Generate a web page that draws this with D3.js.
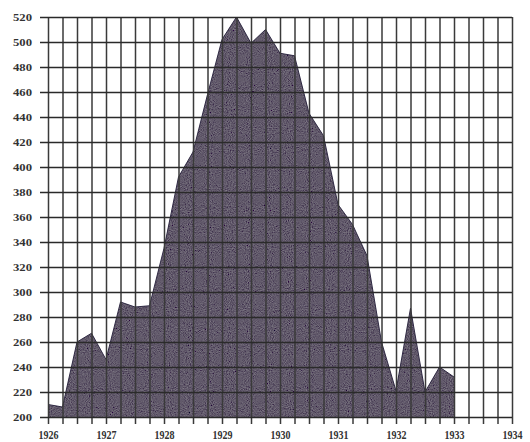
<!DOCTYPE html>
<html>
<head>
<meta charset="utf-8">
<script src="https://cdn.jsdelivr.net/npm/d3@7"></script>
<style>
  html, body { margin: 0; padding: 0; background: #ffffff; }
  svg { display: block; }
</style>
</head>
<body>
<svg id="chart" width="530" height="442"></svg>
<script>
// Quarterly index readings, 1926 – 1933
const quarters = [
  1926.00, 1926.25, 1926.50, 1926.75,
  1927.00, 1927.25, 1927.50, 1927.75,
  1928.00, 1928.25, 1928.50, 1928.75,
  1929.00, 1929.25, 1929.50, 1929.75,
  1930.00, 1930.25, 1930.50, 1930.75,
  1931.00, 1931.25, 1931.50, 1931.75,
  1932.00, 1932.25, 1932.50, 1932.75,
  1933.00
];
const values = [
  210, 208, 260, 267,
  246, 292, 288, 289,
  335, 392, 412, 458,
  502, 520, 499, 510,
  491, 489, 443, 425,
  370, 354, 329, 260,
  221, 287, 220, 240,
  232
];
const yearLabels = [1926, 1927, 1928, 1929, 1930, 1931, 1932, 1933, 1934];
const yTickValues = [200, 220, 240, 260, 280, 300, 320, 340, 360, 380, 400, 420, 440, 460, 480, 500, 520];

const svg = d3.select("#chart");
const plotLeft = 48, plotRight = 512, plotTop = 17, plotBottom = 417;
const labelFont = "'Liberation Serif', 'DejaVu Serif', serif";

const x = d3.scaleLinear().domain([1926, 1934]).range([plotLeft, plotRight]);
const y = d3.scaleLinear().domain([200, 520]).range([plotBottom, plotTop]);

// grain for the filled area
const defs = svg.append("defs");
const f = defs.append("filter").attr("id", "grain")
  .attr("x", 0).attr("y", 0).attr("width", 1).attr("height", 1);
f.append("feTurbulence").attr("type", "fractalNoise")
  .attr("baseFrequency", 0.95).attr("numOctaves", 1).attr("seed", 7).attr("result", "noise");
f.append("feColorMatrix").attr("in", "noise").attr("type", "matrix")
  .attr("values", "0.33 0.33 0.33 0 0  0.33 0.33 0.33 0 0  0.33 0.33 0.33 0 0  0 0 0 0 1")
  .attr("result", "gray");
f.append("feComposite").attr("in", "SourceGraphic").attr("in2", "gray")
  .attr("operator", "arithmetic").attr("k1", 0).attr("k2", 1).attr("k3", 0.5).attr("k4", -0.25)
  .attr("result", "mix");
f.append("feComposite").attr("in", "mix").attr("in2", "SourceGraphic").attr("operator", "in");

const series = quarters.map((q, i) => ({ q, v: values[i] }));

// filled area
const area = d3.area().x(d => x(d.q)).y0(y(200)).y1(d => y(d.v));
svg.append("path").datum(series)
  .attr("d", area)
  .attr("fill", "#625a6b")
  .attr("filter", "url(#grain)");
svg.append("path").datum(series)
  .attr("d", d3.line().x(d => x(d.q)).y(d => y(d.v)))
  .attr("fill", "none").attr("stroke", "#2e2842").attr("stroke-width", 1);

// vertical grid at every quarter, ticks below the axis, year labels
const quarterTicks = d3.range(0, 33).map(i => 1926 + i / 4);
const xAxis = d3.axisBottom(x)
  .tickValues(quarterTicks)
  .tickSizeInner(-(plotBottom + 7 - plotTop))
  .tickSizeOuter(0)
  .tickPadding(6)
  .tickFormat(d => yearLabels.includes(d) ? String(d) : "");
const gx = svg.append("g").attr("transform", `translate(0,${plotBottom + 7})`).call(xAxis);
gx.select(".domain").remove();
gx.selectAll(".tick line").attr("stroke", "#3a3a3a").attr("stroke-width", 1.5);
gx.selectAll(".tick text")
  .attr("font-family", labelFont).attr("font-size", 13).attr("font-weight", "bold")
  .attr("fill", "#333")
  .filter(function () { return this.textContent !== ""; })
  .attr("textLength", 20).attr("lengthAdjust", "spacingAndGlyphs");

// horizontal grid every 20, ticks left of the axis
const yAxis = d3.axisLeft(y)
  .tickValues(yTickValues)
  .tickSizeInner(-(plotRight - (plotLeft - 8)))
  .tickSizeOuter(0)
  .tickPadding(8)
  .tickFormat(d3.format("d"));
const gy = svg.append("g").attr("transform", `translate(${plotLeft - 8},0)`).call(yAxis);
gy.select(".domain").remove();
gy.selectAll(".tick line").attr("stroke", "#2a2a2a").attr("stroke-width", 1.5);
gy.selectAll(".tick text")
  .attr("font-family", labelFont).attr("font-size", 11).attr("font-weight", "bold")
  .attr("fill", "#333")
  .attr("textLength", 19).attr("lengthAdjust", "spacingAndGlyphs");
</script>
</body>
</html>
